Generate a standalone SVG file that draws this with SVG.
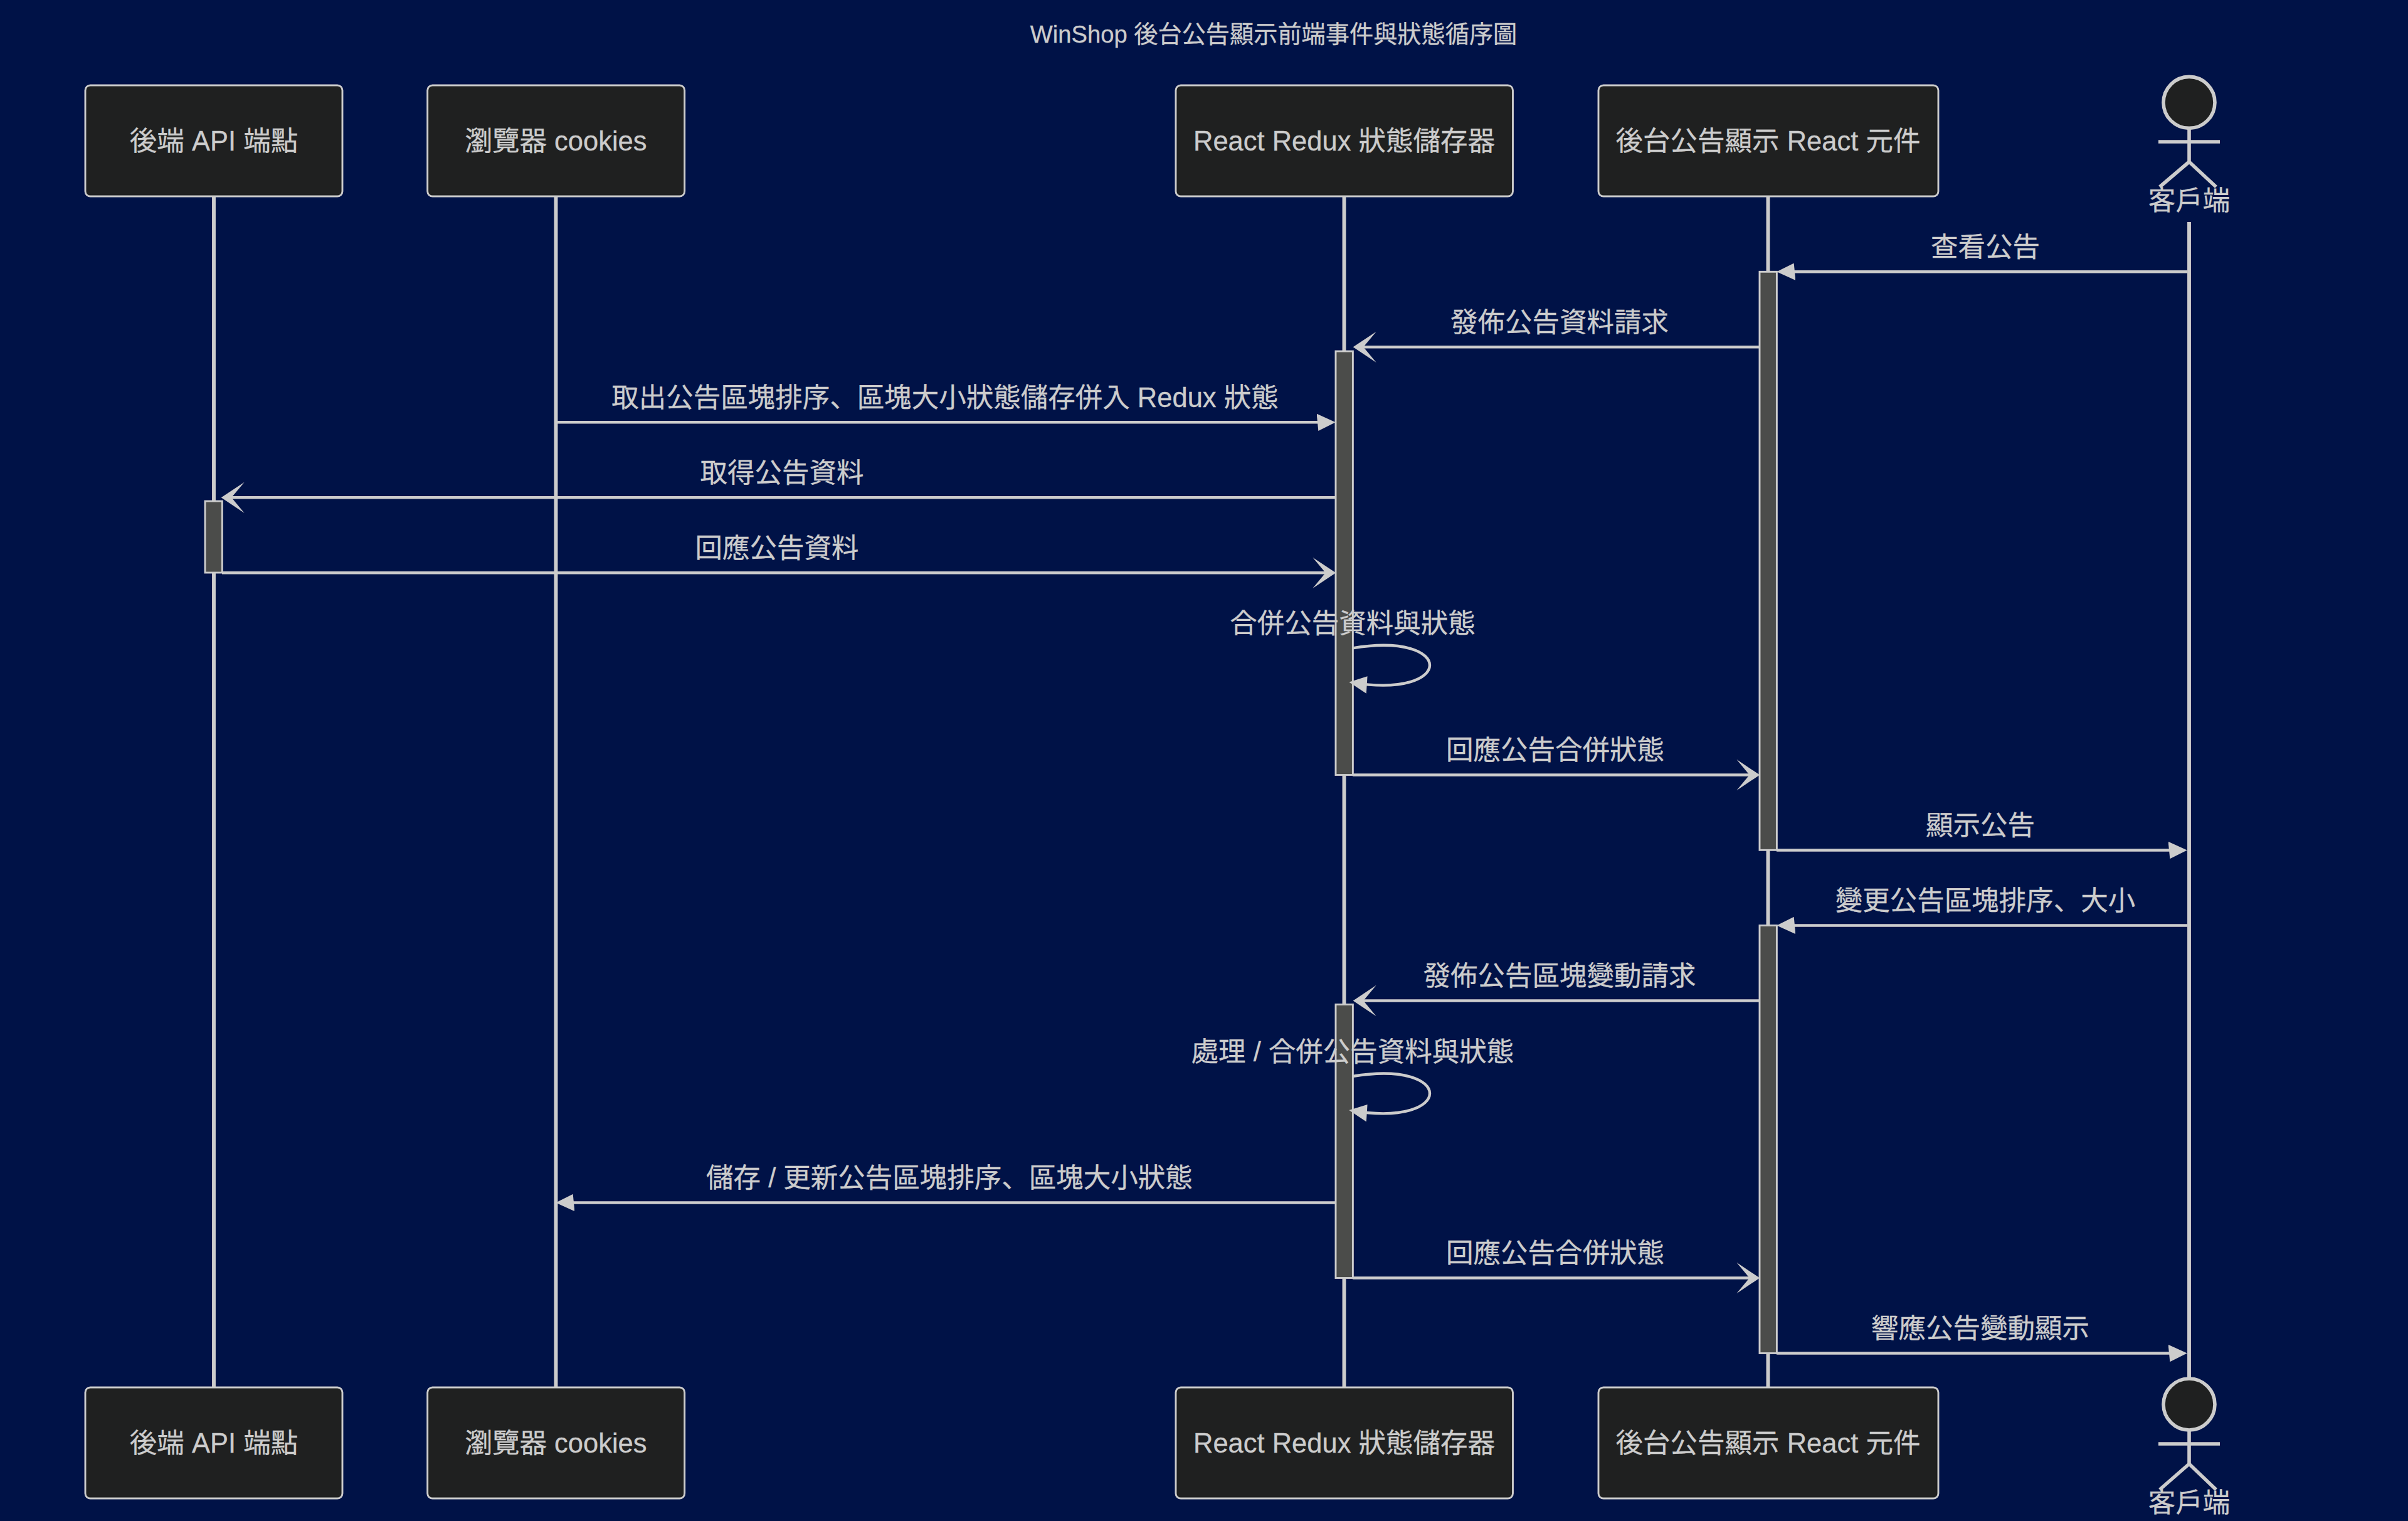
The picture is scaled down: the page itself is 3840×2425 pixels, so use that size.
<svg xmlns="http://www.w3.org/2000/svg" width="3840" height="2425" viewBox="0 0 3840 2425">
<style>
text{font-family:"Liberation Sans","Noto Sans CJK JP",sans-serif;fill:#ccc;text-anchor:middle;stroke:#ccc;stroke-width:.3}
.title{font-size:38.2px}
.msg{font-size:43.5px}
.lbl{font-size:43.5px}
.box{fill:#1f2020;stroke:#ccc;stroke-width:2.9}
.life{stroke:#ccc;stroke-width:5.9}
.act{fill:#4b4c4a;stroke:#ccc;stroke-width:2.9}
.m{stroke:#ccc;stroke-width:4.4;fill:none}
.head{fill:#ccc;stroke:none}
.stick{fill:none;stroke:#ccc;stroke-width:5.6}
.f{marker-end:url(#a)}
.o{marker-end:url(#o)}
</style>
<defs>
<marker id="a" markerUnits="userSpaceOnUse" viewBox="-1 0 12 10" refX="7.9" refY="5" markerWidth="32.9" markerHeight="27.4" orient="auto"><path class="head" d="M-1 0L10 5L0 10z"/></marker>
<marker id="o" markerUnits="userSpaceOnUse" viewBox="0 0 20 14" refX="15.5" refY="7" markerWidth="82.2" markerHeight="57.5" orient="auto"><path class="head" d="M18 7L9 13L14 7L9 1z"/></marker>
</defs>
<rect width="3840" height="2425" fill="#001247"/>
<text class="title" x="2031" y="68">WinShop 後台公告顯示前端事件與狀態循序圖</text>
<g id="lifelines">
<line class="life" x1="341" y1="313" x2="341" y2="2212"/>
<line class="life" x1="886.5" y1="313" x2="886.5" y2="2212"/>
<line class="life" x1="2143.5" y1="313" x2="2143.5" y2="2212"/>
<line class="life" x1="2819.5" y1="313" x2="2819.5" y2="2212"/>
<line class="life" x1="3491" y1="354" x2="3491" y2="2197"/>
</g>
<g id="actor-api"><rect class="box" x="136" y="136" width="410" height="177" rx="8"/><text class="lbl" x="341" y="240">後端 API 端點</text><rect class="box" x="136" y="2212" width="410" height="177" rx="8"/><text class="lbl" x="341" y="2316">後端 API 端點</text></g>
<g id="actor-cookies"><rect class="box" x="681.7" y="136" width="410" height="177" rx="8"/><text class="lbl" x="886.5" y="240">瀏覽器 cookies</text><rect class="box" x="681.7" y="2212" width="410" height="177" rx="8"/><text class="lbl" x="886.5" y="2316">瀏覽器 cookies</text></g>
<g id="actor-redux"><rect class="box" x="1875" y="136" width="537.5" height="177" rx="8"/><text class="lbl" x="2143.5" y="240">React Redux 狀態儲存器</text><rect class="box" x="1875" y="2212" width="537.5" height="177" rx="8"/><text class="lbl" x="2143.5" y="2316">React Redux 狀態儲存器</text></g>
<g id="actor-component"><rect class="box" x="2549" y="136" width="542" height="177" rx="8"/><text class="lbl" x="2819.5" y="240">後台公告顯示 React 元件</text><rect class="box" x="2549" y="2212" width="542" height="177" rx="8"/><text class="lbl" x="2819.5" y="2316">後台公告顯示 React 元件</text></g>
<g id="actor-client-top"><circle class="box" style="stroke-width:5.6" cx="3491" cy="163.4" r="41"/><path class="stick" d="M3491 204V258M3442 226H3540M3491 258L3444 298M3491 258L3534 298"/><text class="lbl" x="3491" y="334.5">客戶端</text></g>
<g id="actor-client-bottom"><circle class="box" style="stroke-width:5.6" cx="3491" cy="2239" r="41"/><path class="stick" d="M3491 2280V2334M3442 2302H3540M3491 2334L3444 2375M3491 2334L3534 2375"/><text class="lbl" x="3491" y="2410.5">客戶端</text></g>
<g id="activations">
<rect class="act" x="327" y="799" width="27.4" height="114"/>
<rect class="act" x="2130" y="560" width="27.4" height="675.5"/>
<rect class="act" x="2130" y="1601.5" width="27.4" height="436"/>
<rect class="act" x="2806" y="433.3" width="27.4" height="922"/>
<rect class="act" x="2806" y="1475.5" width="27.4" height="682"/>
</g>
<g id="connectors">
<line class="m f" x1="3488" y1="433.3" x2="2839" y2="433.3"/>
<line class="m o" x1="2806" y1="553.3" x2="2168" y2="553.3"/>
<line class="m f" x1="886.5" y1="673.3" x2="2124" y2="673.3"/>
<line class="m o" x1="2130" y1="793.3" x2="363" y2="793.3"/>
<line class="m o" x1="354" y1="913.3" x2="2120" y2="913.3"/>
<path class="m f" d="M2157 1033.3C2321 1006 2321 1115 2157 1088.3"/>
<line class="m o" x1="2157" y1="1235.5" x2="2796" y2="1235.5"/>
<line class="m f" x1="2833" y1="1355.5" x2="3482" y2="1355.5"/>
<line class="m f" x1="3488" y1="1475.5" x2="2839" y2="1475.5"/>
<line class="m o" x1="2806" y1="1595.5" x2="2168" y2="1595.5"/>
<path class="m f" d="M2157 1716C2321 1688.6 2321 1797.6 2157 1771"/>
<line class="m f" x1="2130" y1="1917.5" x2="892" y2="1917.5"/>
<line class="m o" x1="2157" y1="2037.5" x2="2796" y2="2037.5"/>
<line class="m f" x1="2833" y1="2157.5" x2="3482" y2="2157.5"/>
</g>
<g id="labels">
<text class="msg" x="3166" y="409">查看公告</text>
<text class="msg" x="2487" y="529">發佈公告資料請求</text>
<text class="msg" x="1507" y="649">取出公告區塊排序、區塊大小狀態儲存併入 Redux 狀態</text>
<text class="msg" x="1247" y="769">取得公告資料</text>
<text class="msg" x="1239" y="889">回應公告資料</text>
<text class="msg" x="2157" y="1009">合併公告資料與狀態</text>
<text class="msg" x="2480" y="1211.2">回應公告合併狀態</text>
<text class="msg" x="3158" y="1331.2">顯示公告</text>
<text class="msg" x="3166" y="1451.2">變更公告區塊排序、大小</text>
<text class="msg" x="2487" y="1571.2">發佈公告區塊變動請求</text>
<text class="msg" x="2157" y="1691.6">處理 / 合併公告資料與狀態</text>
<text class="msg" x="1514" y="1893.2">儲存 / 更新公告區塊排序、區塊大小狀態</text>
<text class="msg" x="2480" y="2013.2">回應公告合併狀態</text>
<text class="msg" x="3158" y="2133.2">響應公告變動顯示</text>
</g>
</svg>
